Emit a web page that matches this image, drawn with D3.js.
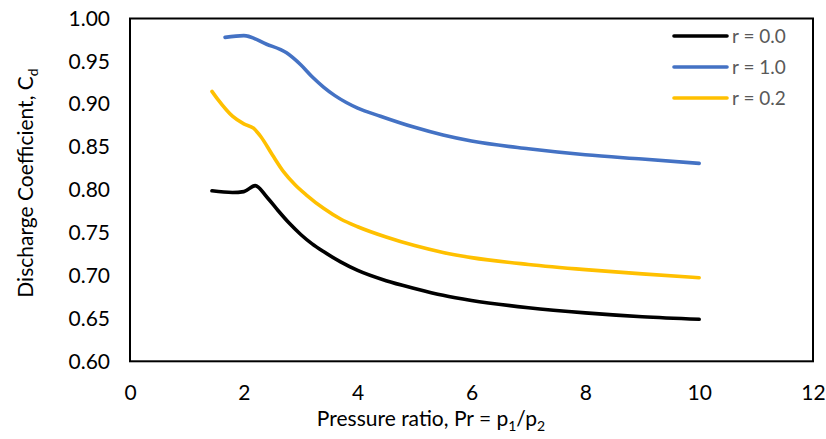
<!DOCTYPE html>
<html><head><meta charset="utf-8">
<script src="https://cdn.jsdelivr.net/npm/d3@7"></script>
<style>body{margin:0;background:#fff}svg{display:block}text{font-family:Lato,"Open Sans",sans-serif}</style>
</head><body>
<svg id="c" width="826" height="439"></svg>
<script>
const seriesNames = ["r = 0.0", "r = 1.0", "r = 0.2"];
const seriesColors = ["#000000", "#4472C4", "#FFC000"];
const r00X = [1.44,1.8,2.0,2.2,2.4,2.6,2.8,3.0,3.2,3.4,3.7,4.0,4.5,5.0,5.5,6.0,7.0,8.0,9.0,10];
const r00Y = [0.799,0.797,0.798,0.805,0.792,0.776,0.761,0.748,0.737,0.728,0.716,0.706,0.694,0.685,0.677,0.671,0.6625,0.6565,0.652,0.649];
const r10X = [1.67,2.0,2.4,2.75,3.0,3.2,3.4,3.6,3.8,4.0,4.4,5.0,5.5,6.0,7.0,8.0,9.0,10];
const r10Y = [0.978,0.980,0.970,0.960,0.946,0.932,0.920,0.910,0.902,0.8955,0.886,0.873,0.864,0.857,0.848,0.841,0.836,0.831];
const r02X = [1.44,1.55,1.8,2.0,2.17,2.3,2.5,2.7,2.9,3.1,3.4,3.7,4.0,4.5,5.0,5.5,6.0,7.0,8.0,9.0,10];
const r02Y = [0.915,0.905,0.886,0.877,0.872,0.862,0.841,0.821,0.806,0.794,0.7785,0.766,0.757,0.745,0.735,0.727,0.721,0.713,0.707,0.702,0.6975];
const xTicks = [0,2,4,6,8,10,12];
const yTicks = [0.60,0.65,0.70,0.75,0.80,0.85,0.90,0.95,1.00];

const svg = d3.select("#c");
const L = 130, R = 813, T = 18.5, B = 361.3;
const x = d3.scaleLinear().domain([0,12]).range([L,R]);
const y = d3.scaleLinear().domain([0.6,1.0]).range([B,T]);

const yAxis = d3.axisLeft(y).tickValues(yTicks).tickFormat(d3.format(".2f")).tickSize(0).tickPadding(20);
const gy = svg.append("g").attr("transform",`translate(${L},0)`).call(yAxis);
gy.select(".domain").remove();
gy.selectAll("text").attr("font-family","Lato").attr("font-size",21).attr("fill","#000");

const xAxis = d3.axisBottom(x).tickValues(xTicks).tickFormat(d3.format("d")).tickSize(0).tickPadding(24);
const gx = svg.append("g").attr("transform",`translate(0,${B})`).call(xAxis);
gx.select(".domain").remove();
gx.selectAll("text").attr("font-family","Lato").attr("font-size",21).attr("fill","#000");

const data = [
  r00X.map((v,i)=>[v,r00Y[i]]),
  r10X.map((v,i)=>[v,r10Y[i]]),
  r02X.map((v,i)=>[v,r02Y[i]])
];
const line = d3.line().x(d=>x(d[0])).y(d=>y(d[1])).curve(d3.curveMonotoneX);
data.forEach((d,i)=>{
  svg.append("path").datum(d).attr("d",line).attr("fill","none")
    .attr("stroke",seriesColors[i]).attr("stroke-width",3.6).attr("stroke-linecap","round").attr("stroke-linejoin","round");
});

svg.append("rect").attr("x",L).attr("y",T).attr("width",R-L).attr("height",B-T)
  .attr("fill","none").attr("stroke","#000").attr("stroke-width",2);

const lg = svg.append("g");
seriesNames.forEach((n,i)=>{
  const yy = 36 + i*31;
  lg.append("line").attr("x1",674).attr("x2",727).attr("y1",yy).attr("y2",yy)
    .attr("stroke",seriesColors[i]).attr("stroke-width",3.6).attr("stroke-linecap","round");
  lg.append("text").attr("x",732).attr("y",yy).attr("dy","0.35em").attr("font-size",19)
    .attr("fill","#595959").text(n);
});

const xt = svg.append("text").attr("x",431).attr("y",426).attr("text-anchor","middle").attr("font-size",21).attr("fill","#000");
xt.append("tspan").text("Pressure ratio, Pr = p");
xt.append("tspan").attr("font-size",14).attr("dy",5).text("1");
xt.append("tspan").attr("dy",-5).text("/p");
xt.append("tspan").attr("font-size",14).attr("dy",5).text("2");

const yt = svg.append("text").attr("transform","translate(33,183) rotate(-90)").attr("text-anchor","middle").attr("font-size",21).attr("fill","#000");
yt.append("tspan").text("Discharge Coefficient, C");
yt.append("tspan").attr("font-size",14).attr("dy",5).text("d");
</script>
</body></html>
